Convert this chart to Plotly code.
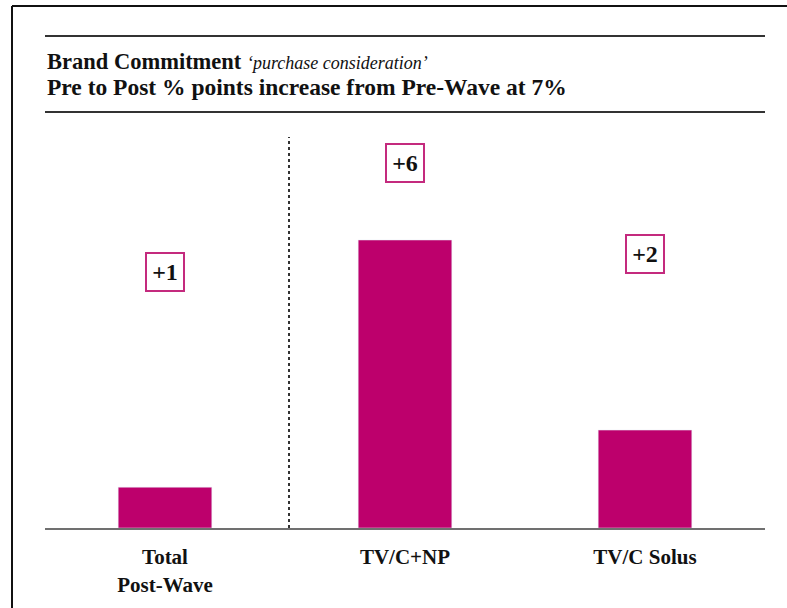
import plotly.graph_objects as go

categories = ["Total<br>Post-Wave", "TV/C+NP", "TV/C Solus"]
values = [0.85, 6.0, 2.04]
labels = ["+1", "+6", "+2"]
label_y = [5.33, 7.6, 5.71]

W, H = 787, 608
ML, MR, MT, MB = 45, 22, 137, 80
PW, PH = W - ML - MR, H - MT - MB

def px_x(px):
    return (px - ML) / PW

def px_y(py):
    return (H - MB - py) / PH

BAR = "#BD006C"
BOX = "#C42A7E"
FONT = "Liberation Serif"

fig = go.Figure()
fig.add_trace(go.Bar(x=categories, y=values, marker_color=BAR, width=0.39,
                     hoverinfo="skip"))

for c, t, yy in zip(categories, labels, label_y):
    fig.add_annotation(x=c, y=yy, xref="x", yref="y", text="<b>" + t + "</b>",
                       showarrow=False, font=dict(family=FONT, size=24, color="#111"),
                       bordercolor=BOX, borderwidth=2, width=34, height=34,
                       bgcolor="white")

fig.add_annotation(xref="paper", yref="paper", x=0, y=px_y(62), xanchor="left", yanchor="middle",
                   text="<b>Brand Commitment</b> <i><span style='font-size:18px'>\u2018purchase consideration\u2019</span></i>",
                   showarrow=False, font=dict(family=FONT, size=22.5, color="#111"))
fig.add_annotation(xref="paper", yref="paper", x=0, y=px_y(87), xanchor="left", yanchor="middle",
                   text="<b>Pre to Post % points increase from Pre-Wave at 7%</b>",
                   showarrow=False, font=dict(family=FONT, size=23.5, color="#111"))

shapes = []
for py in (36, 112):
    shapes.append(dict(type="line", xref="paper", yref="paper", x0=0, x1=1,
                       y0=px_y(py), y1=px_y(py), line=dict(color="#333", width=2)))
shapes.append(dict(type="line", xref="paper", yref="paper", x0=px_x(12), x1=px_x(800),
                   y0=px_y(6), y1=px_y(6), line=dict(color="#111", width=2)))
shapes.append(dict(type="line", xref="paper", yref="paper", x0=px_x(12), x1=px_x(12),
                   y0=px_y(6), y1=px_y(620), line=dict(color="#111", width=2)))
shapes.append(dict(type="line", xref="paper", yref="paper", x0=px_x(289), x1=px_x(289),
                   y0=0, y1=1, line=dict(color="#333", width=2, dash="dot")))

fig.update_layout(
    width=W, height=H, margin=dict(l=ML, r=MR, t=MT, b=MB),
    paper_bgcolor="white", plot_bgcolor="white", showlegend=False,
    shapes=shapes, bargap=0.6,
    xaxis=dict(showline=True, linecolor="#707070", linewidth=2, showgrid=False,
               ticks="", tickfont=dict(family=FONT, size=21, color="#111"),
               ticklabelstandoff=9, fixedrange=True),
    yaxis=dict(range=[0, PH / 48], visible=False, showgrid=False, fixedrange=True),
)
fig.update_xaxes(tickprefix="<b>", ticksuffix="</b>")

fig.write_html("out.html")
